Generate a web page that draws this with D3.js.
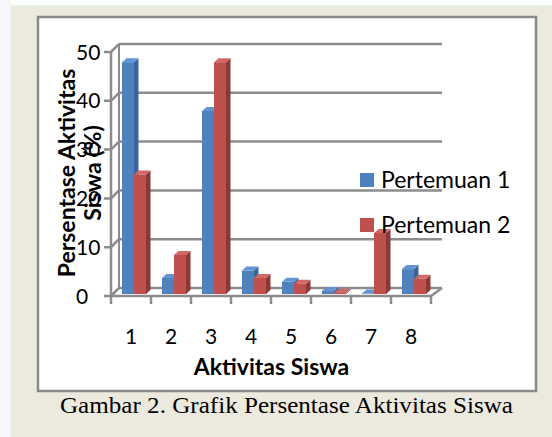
<!DOCTYPE html>
<html>
<head>
<meta charset="utf-8">
<script src="https://cdn.jsdelivr.net/npm/d3@7"></script>
<style>
  html, body { margin: 0; padding: 0; background: #ece9de; }
  svg { display: block; }
</style>
</head>
<body>
<div id="chart"></div>
<script>
/* chart data */
const categories = ['1', '2', '3', '4', '5', '6', '7', '8'];
const pertemuan1 = [47.5, 3.3, 37.5, 4.8, 2.5, 0.6, 0.1, 5.1];
const pertemuan2 = [24.5, 8.0, 47.5, 3.3, 2.1, 0.2, 12.5, 3.1];
const seriesNames = ['Pertemuan 1', 'Pertemuan 2'];
const yTicks = [0, 10, 20, 30, 40, 50];

const width = 552
const height = 437
const depth = [8, -8]      // back wall offset
const barShift = [2, -2]   // bar front plane offset
const barDepth = [4.5, -4]
const barW = 12

const colors = [
  { front: '#4f81bd', top: '#6293d3', side: '#3a659a' },
  { front: '#c0504d', top: '#d06865', side: '#8c3835' }
]

const svg = d3.select('#chart')
  .append('svg')
  .attr('width', width)
  .attr('height', height)

/* page background */
svg.append('rect').attr('width', width).attr('height', height).attr('fill', '#ece9de')
svg.append('rect').attr('width', width).attr('height', 6).attr('fill', '#fbfdfc')
svg.append('rect').attr('width', 11).attr('height', height).attr('fill', '#f7f7fb')
svg.append('line').attr('x1', 11).attr('x2', 11).attr('y1', 6).attr('y2', height)
  .attr('stroke', '#dcf3e6').attr('stroke-width', 1.5)
svg.append('line').attr('x1', 11).attr('x2', width).attr('y1', 6).attr('y2', 6)
  .attr('stroke', '#dcf3e6').attr('stroke-width', 1.5)

/* chart frame */
svg.append('rect')
  .attr('x', 38).attr('y', 17).attr('width', 498).attr('height', 374)
  .attr('fill', '#fff').attr('stroke', '#8a8a8a').attr('stroke-width', 2.5)

const x = d3.scaleBand().domain(categories).range([111, 431])
const y = d3.scaleLinear().domain([0, 50]).range([296, 52])

const grid = '#8c8c8c'

// back wall gridlines
svg.append('g')
  .selectAll('line')
  .data(yTicks)
  .enter()
  .append('line')
  .attr('x1', x.range()[0] + depth[0])
  .attr('x2', x.range()[1] + depth[0] + 3)
  .attr('y1', d => y(d) + depth[1])
  .attr('y2', d => y(d) + depth[1])
  .attr('stroke', grid).attr('stroke-width', 2.5)

// back wall left edge
svg.append('line')
  .attr('x1', x.range()[0] + depth[0]).attr('x2', x.range()[0] + depth[0])
  .attr('y1', y(0) + depth[1]).attr('y2', y(50) + depth[1])
  .attr('stroke', grid).attr('stroke-width', 2)

// front axis with slanted ticks
svg.append('line')
  .attr('x1', x.range()[0]).attr('x2', x.range()[0])
  .attr('y1', y(0)).attr('y2', y(50))
  .attr('stroke', grid).attr('stroke-width', 2.5)

const yt = svg.append('g').selectAll('g').data(yTicks).enter().append('g')
yt.append('path')
  .attr('d', d => `M${x.range()[0] - 7},${y(d)}L${x.range()[0]},${y(d)}L${x.range()[0] + depth[0]},${y(d) + depth[1]}`)
  .attr('fill', 'none').attr('stroke', grid).attr('stroke-width', 2.5)

// floor
svg.append('path')
  .attr('d', `M${x.range()[0]},${y(0)}L${x.range()[1]},${y(0)}L${x.range()[1] + depth[0] + 3},${y(0) + depth[1]}`)
  .attr('fill', 'none').attr('stroke', grid).attr('stroke-width', 2.5)

svg.append('g')
  .selectAll('line')
  .data(categories.concat(['end']))
  .enter()
  .append('line')
  .attr('x1', d => d === 'end' ? x.range()[1] : x(d))
  .attr('x2', d => d === 'end' ? x.range()[1] : x(d))
  .attr('y1', y(0)).attr('y2', y(0) + 8)
  .attr('stroke', grid).attr('stroke-width', 2.5)

/* 3D bars */
function bar(g, x0, v, c) {
  const fx = x0 + barShift[0]
  const fy0 = y(0) + barShift[1]
  const fy1 = y(v) + barShift[1]
  const [dx, dy] = barDepth
  g.append('rect')
    .attr('x', fx).attr('y', fy1).attr('width', barW).attr('height', Math.max(0, fy0 - fy1))
    .attr('fill', c.front)
  g.append('path')
    .attr('d', `M${fx + barW},${fy1}L${fx + barW + dx},${fy1 + dy}L${fx + barW + dx},${fy0 + dy}L${fx + barW},${fy0}Z`)
    .attr('fill', c.side)
  g.append('path')
    .attr('d', `M${fx},${fy1}L${fx + dx},${fy1 + dy}L${fx + barW + dx},${fy1 + dy}L${fx + barW},${fy1}Z`)
    .attr('fill', c.top)
}

const bars = svg.append('g')
categories.forEach((cat, i) => {
  const g = bars.append('g')
  bar(g, x(cat) + 9, pertemuan1[i], colors[0])
  bar(g, x(cat) + 9 + barW, pertemuan2[i], colors[1])
})

/* text */
const sans = 'Lato, "Open Sans", sans-serif'

svg.append('g')
  .selectAll('text')
  .data(yTicks)
  .enter()
  .append('text')
  .attr('x', 76)
  .attr('y', d => y(d))
  .attr('dy', '.36em')
  .attr('font-family', sans).attr('font-size', 21).attr('fill', '#000')
  .text(d => d)

svg.append('g')
  .selectAll('text')
  .data(categories)
  .enter()
  .append('text')
  .attr('x', d => x(d) + x.bandwidth() / 2)
  .attr('y', 344)
  .attr('text-anchor', 'middle')
  .attr('font-family', sans).attr('font-size', 21).attr('fill', '#000')
  .text(d => d)

svg.append('text')
  .attr('x', 271.5).attr('y', 375)
  .attr('text-anchor', 'middle')
  .attr('font-family', sans).attr('font-size', 23).attr('font-weight', 'bold')
  .text('Aktivitas Siswa')

const yTitle = svg.append('text')
  .attr('transform', 'translate(75, 173) rotate(-90)')
  .attr('text-anchor', 'middle')
  .attr('font-family', sans).attr('font-size', 23).attr('font-weight', 'bold')
yTitle.append('tspan').attr('x', 0).attr('y', 0).text('Persentase Aktivitas')
yTitle.append('tspan').attr('x', 0).attr('y', 26).text('Siswa (%)')

// legend
const legend = svg.append('g')
  .selectAll('g')
  .data(seriesNames)
  .enter()
  .append('g')
  .attr('transform', (d, i) => `translate(360, ${173 + i * 45})`)
legend.append('rect')
  .attr('width', 14).attr('height', 14)
  .attr('fill', (d, i) => colors[i].front)
legend.append('text')
  .attr('x', 21).attr('y', 15)
  .attr('font-family', sans).attr('font-size', 23)
  .text(d => d)

// caption
svg.append('text')
  .attr('x', 60).attr('y', 413)
  .attr('font-family', '"Liberation Serif", "Times New Roman", serif')
  .attr('font-size', 24)
  .attr('textLength', 453)
  .attr('lengthAdjust', 'spacingAndGlyphs')
  .text('Gambar 2. Grafik Persentase Aktivitas Siswa')
</script>
</body>
</html>
